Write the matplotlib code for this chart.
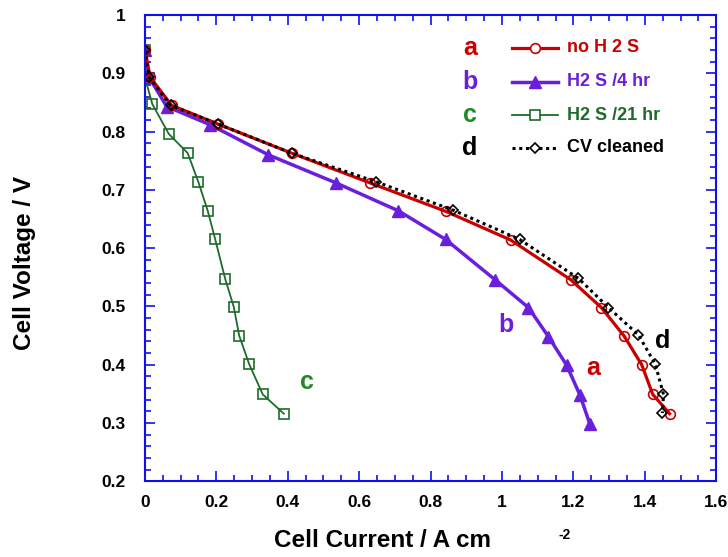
import matplotlib
matplotlib.use("Agg")
import matplotlib.pyplot as plt
from matplotlib.ticker import MultipleLocator

plt.rcParams['font.family'] = ['Liberation Sans', 'DejaVu Sans']
plt.rcParams['font.weight'] = 'bold'

# a: no H2S
a_x = [0.0, 0.015, 0.075, 0.204, 0.411, 0.630, 0.843, 1.024, 1.192, 1.278, 1.342, 1.391, 1.422, 1.469]
a_y = [0.94, 0.893, 0.845, 0.813, 0.763, 0.712, 0.663, 0.614, 0.546, 0.498, 0.449, 0.400, 0.349, 0.316]
# b: H2S / 4 hr
b_x = [0.0, 0.012, 0.061, 0.182, 0.346, 0.535, 0.710, 0.842, 0.980, 1.074, 1.130, 1.181, 1.218, 1.246]
b_y = [0.94, 0.893, 0.843, 0.812, 0.760, 0.712, 0.664, 0.615, 0.546, 0.498, 0.448, 0.399, 0.348, 0.298]
# c: H2S / 21 hr
c_x = [0.0, 0.0, 0.021, 0.067, 0.120, 0.150, 0.176, 0.197, 0.225, 0.249, 0.264, 0.292, 0.330, 0.389]
c_y = [0.94, 0.893, 0.847, 0.796, 0.763, 0.713, 0.664, 0.615, 0.547, 0.499, 0.450, 0.401, 0.349, 0.316]
# d: CV cleaned
d_x = [0.0, 0.012, 0.072, 0.205, 0.411, 0.647, 0.864, 1.049, 1.214, 1.298, 1.382, 1.429, 1.452, 1.449]
d_y = [0.94, 0.893, 0.845, 0.813, 0.763, 0.714, 0.665, 0.615, 0.548, 0.498, 0.451, 0.401, 0.349, 0.317]

red = '#c80000'
purple = '#6a1fdc'
green = '#1e6b2c'
green_lbl = '#1f8a24'
blue = '#1010ee'

fig = plt.figure(figsize=(7.28, 5.57), dpi=100)
ax = fig.add_axes([0.199, 0.136, 0.785, 0.837])

ax.plot(c_x, c_y, color=green, lw=1.3, marker='s', ms=7, mfc='none', mec=green, mew=1.2)
ax.plot(b_x, b_y, color=purple, lw=2.5, marker='^', ms=8, mfc=purple, mec=purple)
ax.plot(a_x, a_y, color=red, lw=2.3, marker='o', ms=7, mfc='none', mec=red, mew=1.2)
ax.plot(d_x, d_y, color='black', lw=2.2, ls=(0, (1, 1.2)), marker='D', ms=5, mfc='none', mec='black', mew=1.2)

ax.set_xlim(0, 1.6)
ax.set_ylim(0.2, 1.0)
ax.xaxis.set_minor_locator(MultipleLocator(0.05))
ax.yaxis.set_minor_locator(MultipleLocator(0.02))
ax.set_xticks([0, 0.2, 0.4, 0.6, 0.8, 1.0, 1.2, 1.4, 1.6])
ax.set_xticklabels(['0', '0.2', '0.4', '0.6', '0.8', '1', '1.2', '1.4', '1.6'])
ax.set_yticks([0.2, 0.3, 0.4, 0.5, 0.6, 0.7, 0.8, 0.9, 1.0])
ax.set_yticklabels(['0.2', '0.3', '0.4', '0.5', '0.6', '0.7', '0.8', '0.9', '1'])

for s in ax.spines.values():
    s.set_color(blue)
    s.set_linewidth(1.5)
ax.tick_params(which='both', direction='in', top=True, right=True, colors=blue,
               labelcolor='black', labelsize=12.5, width=1.2)
ax.tick_params(which='major', length=7)
ax.tick_params(which='minor', length=4)
ax.tick_params(axis='y', which='major', pad=14)
ax.tick_params(axis='x', which='major', pad=10)

fig.text(0.033, 0.528, 'Cell Voltage / V', fontsize=17.5, fontweight='bold',
         rotation=90, ha='center', va='center')
fig.text(0.526, 0.029, 'Cell Current / A cm', fontsize=17.5, fontweight='bold', ha='center', va='center')
fig.text(0.776, 0.039, '-2', fontsize=10, fontweight='bold', ha='center', va='center')

# legend drawn manually
leg_rows = [
    ('a', 'no H 2 S', red, red, dict(color=red, lw=2.3, marker='o', ms=7, mfc='white', mec=red, mew=1.2)),
    ('b', 'H2 S /4 hr', purple, purple, dict(color=purple, lw=2.5, marker='^', ms=8, mfc=purple, mec=purple)),
    ('c', 'H2 S /21 hr', green_lbl, green, dict(color=green, lw=1.3, marker='s', ms=7, mfc='white', mec=green, mew=1.2)),
    ('d', 'CV cleaned', 'black', 'black', dict(color='black', lw=2.2, ls=(0, (1, 1.2)), marker='D', ms=5, mfc='white', mec='black', mew=1.2)),
]
leg_y = [0.914, 0.853, 0.793, 0.735]
for (let, txt, lc, tc, kw), yy in zip(leg_rows, leg_y):
    fig.text(470 / 728, yy, let, color=lc, fontsize=18, fontweight='bold', ha='center', va='center')
    fig.add_artist(plt.Line2D([512 / 728, 535 / 728, 558 / 728], [yy, yy, yy],
                              transform=fig.transFigure, markevery=[1], **kw))
    fig.text(567 / 728, yy, txt, color=tc, fontsize=13, fontweight='bold', ha='left', va='center')

# curve labels
ax.text(1.255, 0.395, 'a', color=red, fontsize=18, fontweight='bold', ha='center', va='center')
ax.text(1.01, 0.468, 'b', color=purple, fontsize=18, fontweight='bold', ha='center', va='center')
ax.text(0.455, 0.37, 'c', color=green_lbl, fontsize=18, fontweight='bold', ha='center', va='center')
ax.text(1.45, 0.44, 'd', color='black', fontsize=18, fontweight='bold', ha='center', va='center')

fig.savefig('out.png', dpi=100)
